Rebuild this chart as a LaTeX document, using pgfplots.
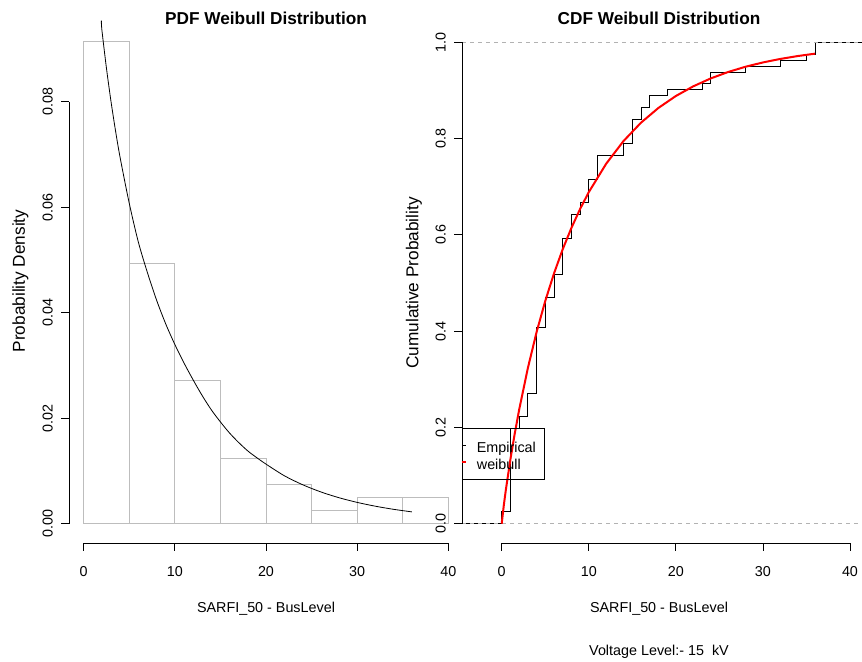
\documentclass[border=0pt]{standalone}
\usepackage{pgfplots}
\pgfplotsset{compat=1.18}
\usepackage{fontspec}
\setmainfont{Liberation Sans}
\newcommand{\rf}{\fontsize{14.4}{17}\selectfont}
\newcommand{\lf}{\fontsize{17.3}{20}\selectfont}
\newcommand{\tf}{\fontsize{17.3}{20}\selectfont\bfseries}
\definecolor{histgray}{gray}{0.74}
\definecolor{abgray}{gray}{0.70}

\pgfplotsset{rstyle/.style={
  scale only axis, anchor=south west,
  axis line style={draw=none},
  clip mode=individual,
  scaled ticks=false,
  tick align=outside, major tick length=8bp,
  tick style={black, line width=0.8bp},
  xtick pos=bottom, ytick pos=left,
  /pgf/number format/assume math mode=true,
  tick label style={font=\rf},
  yticklabel style={rotate=90, anchor=south, inner sep=0pt},
  xticklabel style={anchor=north, inner sep=0pt},
  yticklabel shift=8bp,
  xticklabel shift=15bp,
  xtick={0,10,20,30,40},
}}

\begin{document}
\begin{tikzpicture}
\path[use as bounding box] (0,0) rectangle (862bp,662bp);

% ---------------- PDF panel ----------------
\begin{axis}[rstyle, at={(69bp,119bp)}, width=394bp, height=523bp,
  xmin=-1.6, xmax=41.6, ymin=-0.00366, ymax=0.0955,
  ytick={0,0.02,0.04,0.06,0.08}, yticklabels={0.00,0.02,0.04,0.06,0.08}]
\addplot[ybar interval, draw=histgray, fill=white, line width=0.8bp] coordinates {
  (0,0.09136) (5,0.04938) (10,0.02716) (15,0.01235) (20,0.00741)
  (25,0.00247) (30,0.00494) (35,0.00494) (40,0)};
\addplot[black, line width=0.8bp, smooth] coordinates {
  (1.95,0.0954) (2,0.09372) (2.5,0.08645) (3,0.08012) (3.5,0.07451) (4,0.06947)
  (5,0.06080) (6,0.05342) (7,0.04760) (8,0.04240) (9,0.03790) (10,0.03400)
  (11,0.03050) (12,0.02730) (13,0.02430) (14,0.02160) (15,0.01930) (16,0.01720)
  (17,0.01540) (18,0.01380) (19,0.01250) (20,0.01130) (22,0.009100)
  (24,0.007400) (26,0.006030)
  (28,0.004927) (30,0.004038) (32,0.003313) (34,0.002722) (36,0.002240)};
\draw[line width=0.8bp] (axis cs:0,-0.00366) -- (axis cs:40,-0.00366);
\draw[line width=0.8bp] (axis cs:-1.6,0) -- (axis cs:-1.6,0.08);
\end{axis}

% ---------------- CDF panel ----------------
\begin{axis}[rstyle, at={(462bp,119bp)}, width=400bp, height=520bp,
  xmin=-4.56, xmax=41.38, ymin=-0.04, ymax=1.04,
  ytick={0,0.2,0.4,0.6,0.8,1}, yticklabels={0.0,0.2,0.4,0.6,0.8,1.0}]
\addplot[const plot, black, line width=0.8bp] coordinates {
  (-4.56,0) (0,0.02469) (1,0.19753) (2,0.22222) (3,0.27160) (4,0.40741)
  (5,0.46914) (6,0.51852) (7,0.59259) (8,0.64198) (9,0.66667) (10,0.71605)
  (11,0.76543) (14,0.79012) (15,0.83951) (16,0.86420) (17,0.88889)
  (19,0.90123) (23,0.91358) (24,0.93827) (28,0.95062) (32,0.96296)
  (35,0.97531) (36,1) (41.38,1)};
\addplot[abgray, dash pattern=on 4bp off 4bp, line width=0.8bp] coordinates {(-4.56,0) (41.38,0)};
\addplot[abgray, dash pattern=on 4bp off 4bp, line width=0.8bp] coordinates {(-4.56,1) (41.38,1)};
\addplot[red, line width=2bp] coordinates {
  (0,0) (0.25,0.03984) (0.5,0.07353) (1,0.13374) (1.5,0.18751) (2,0.23646)
  (3,0.32300) (4,0.39767) (5,0.46258) (6,0.51954) (7,0.56976) (8,0.61416)
  (9,0.65361) (10,0.68866) (12,0.74776) (14,0.79503) (16,0.83302)
  (18,0.86360) (20,0.88837) (22,0.90846) (24,0.92484) (26,0.93819)
  (28,0.94913) (30,0.95807) (32,0.96535) (34,0.97137) (36,0.97632)};
\draw[line width=0.8bp] (axis cs:0,-0.04) -- (axis cs:40,-0.04);
\draw[line width=0.8bp] (axis cs:-4.56,0) -- (axis cs:-4.56,1);
\end{axis}

% ---------------- legend ----------------
\draw[line width=0.8bp] (462bp,183bp) rectangle (544bp,233.7bp);
\draw[black, line width=0.8bp] (462bp,217bp) -- (466bp,217bp);
\draw[red, line width=2bp] (461.5bp,200.3bp) -- (466bp,200.3bp);
\node[anchor=base west, inner sep=0pt, font=\rf] at (476.7bp,209.3bp) {Empirical};
\node[anchor=base west, inner sep=0pt, font=\rf] at (476.7bp,192.7bp) {weibull};

% ---------------- titles and labels ----------------
\node[anchor=base, inner sep=0pt, font=\tf] at (266bp,637.5bp) {PDF Weibull Distribution};
\node[anchor=base, inner sep=0pt, font=\tf] at (659bp,637.5bp) {CDF Weibull Distribution};
\node[anchor=base, inner sep=0pt, font=\rf] at (266bp,49bp) {SARFI\_50 - BusLevel};
\node[anchor=base, inner sep=0pt, font=\rf] at (659bp,49bp) {SARFI\_50 - BusLevel};
\node[anchor=base, inner sep=0pt, font=\rf] at (659bp,7bp) {Voltage Level:- 15\ \ kV};
\node[rotate=90, inner sep=0pt, font=\lf] at (20.5bp,381bp) {Probability Density};
\node[rotate=90, inner sep=0pt, font=\lf] at (414bp,379bp) {Cumulative Probability};
\end{tikzpicture}
\end{document}
